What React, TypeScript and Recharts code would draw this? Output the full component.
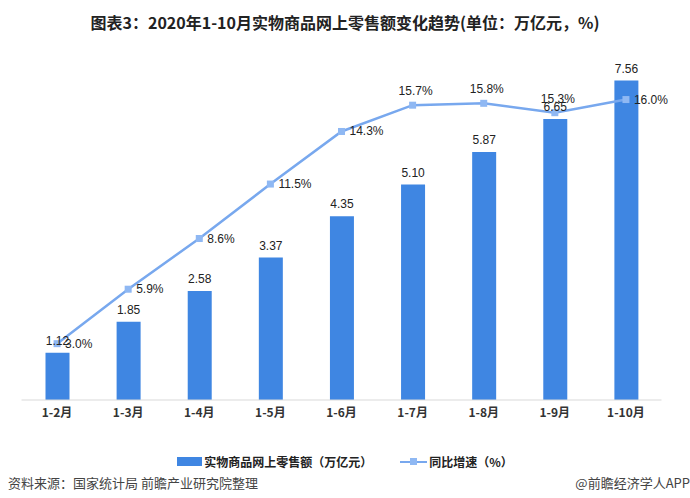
import { ComposedChart, Bar, Line, XAxis, YAxis, LabelList } from "recharts";

const months = ["1-2月", "1-3月", "1-4月", "1-5月", "1-6月", "1-7月", "1-8月", "1-9月", "1-10月"];
const sales = [1.12, 1.85, 2.58, 3.37, 4.35, 5.1, 5.87, 6.65, 7.56];
const growth = [3.0, 5.9, 8.6, 11.5, 14.3, 15.7, 15.8, 15.3, 16.0];

const data = months.map((m, i) => ({ month: m, sales: sales[i], growth: growth[i] }));

const BAR = "#3f86e2";
const LINE = "#78a8ee";
const FONT = "'Liberation Sans', 'Noto Sans CJK SC', sans-serif";
const CJK = "'Noto Sans CJK SC', sans-serif";

// these points get their label above instead of to the right
const labelAbove = new Set([5, 6, 7]);

const GrowthLabel = (props: any) => {
  const { x, y, value, index } = props;
  const txt = `${Number(value).toFixed(1)}%`;
  if (labelAbove.has(index)) {
    return (
      <text x={x + 3} y={y - 10} textAnchor="middle" fontSize={12} fill="#222" fontFamily={FONT}>
        {txt}
      </text>
    );
  }
  return (
    <text x={x + 8} y={y + 4} textAnchor="start" fontSize={12} fill="#222" fontFamily={FONT}>
      {txt}
    </text>
  );
};

const SquareDot = (props: any) => {
  const { cx, cy } = props;
  if (cx == null || cy == null) return null;
  return <rect x={cx - 3.5} y={cy - 3.5} width={7} height={7} fill="#8fb8f3" />;
};

export default function App() {
  return (
    <div style={{ position: "absolute", left: 0, top: 0, width: 690, height: 498, background: "#fff", fontFamily: CJK }}>
      <div
        style={{
          position: "absolute",
          top: 10,
          left: 0,
          width: 690,
          textAlign: "center",
          fontSize: 16,
          fontWeight: 700,
          color: "#222",
        }}
      >
        图表3：2020年1-10月实物商品网上零售额变化趋势(单位：万亿元，%)
      </div>
      <ComposedChart
        width={690}
        height={498}
        data={data}
        margin={{ top: 62, right: 28.5, bottom: 68, left: 21.5 }}
      >
        <XAxis
          dataKey="month"
          axisLine={{ stroke: "#d9d9d9" }}
          tickLine={false}
          height={30}
          tick={{ fontSize: 12, fontWeight: 700, fill: "#333", fontFamily: CJK }}
          interval={0}
        />
        <YAxis yAxisId="left" domain={[0, 8]} hide />
        <YAxis yAxisId="right" orientation="right" domain={[0, 18]} hide />
        <Bar yAxisId="left" dataKey="sales" fill={BAR} barSize={24} isAnimationActive={false}>
          <LabelList
            dataKey="sales"
            position="top"
            offset={8}
            formatter={(v: any) => Number(v).toFixed(2)}
            style={{ fontSize: 12, fill: "#222", fontFamily: FONT }}
          />
        </Bar>
        <Line
          yAxisId="right"
          dataKey="growth"
          stroke={LINE}
          strokeWidth={2.5}
          dot={<SquareDot />}
          activeDot={false}
          isAnimationActive={false}
        >
          <LabelList dataKey="growth" content={<GrowthLabel />} />
        </Line>
      </ComposedChart>
      <div
        style={{
          position: "absolute",
          top: 453,
          left: 0,
          width: 690,
          display: "flex",
          justifyContent: "center",
          alignItems: "center",
          fontSize: 12,
          fontWeight: 700,
          color: "#222",
        }}
      >
        <span style={{ display: "inline-block", width: 25, height: 9, background: BAR, marginRight: 2 }} />
        <span>实物商品网上零售额（万亿元）</span>
        <span style={{ position: "relative", display: "inline-block", width: 27, height: 12, marginLeft: 28, marginRight: 2 }}>
          <span style={{ position: "absolute", left: 0, top: 5, width: 27, height: 2.5, background: LINE }} />
          <span style={{ position: "absolute", left: 10, top: 2.5, width: 7, height: 7, background: "#8fb8f3" }} />
        </span>
        <span>同比增速（%）</span>
      </div>
      <div style={{ position: "absolute", top: 473, left: 8, fontSize: 13, color: "#444" }}>
        资料来源：国家统计局 前瞻产业研究院整理
      </div>
      <div style={{ position: "absolute", top: 473, right: 0, fontSize: 13, color: "#444" }}>
        @前瞻经济学人APP
      </div>
    </div>
  );
}
